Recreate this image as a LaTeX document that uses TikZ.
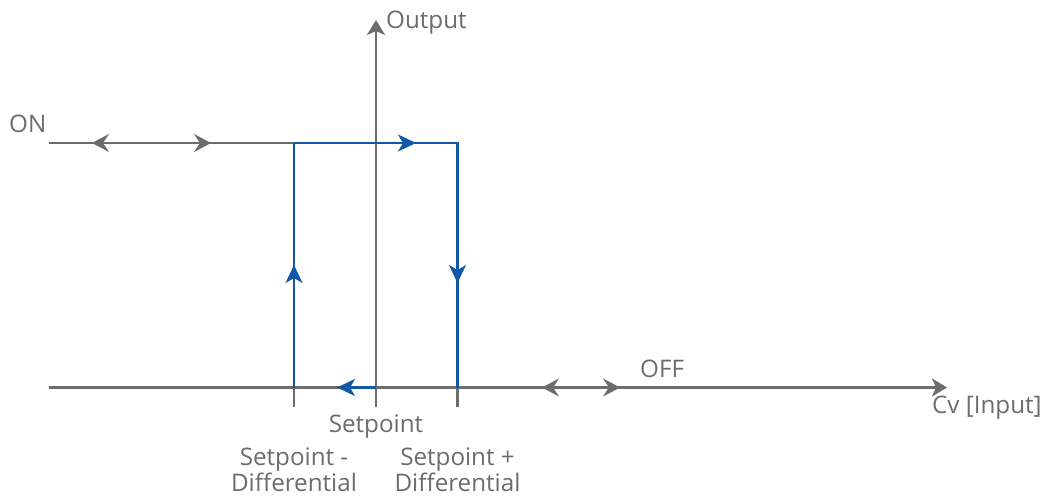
\documentclass[tikz,border=0pt]{standalone}
\usepackage{fontspec}
\setmainfont{Open Sans}
\usetikzlibrary{arrows.meta}
\definecolor{axgray}{RGB}{108,108,108}
\definecolor{hblue}{RGB}{18,88,166}
\tikzset{
  gtip/.tip={Stealth[length=17pt,width=18pt,inset=6pt]},
  atip/.tip={Stealth[length=15pt,width=18pt,inset=4pt]},
  btip/.tip={Stealth[length=18pt,width=17pt,inset=5pt]}}
\begin{document}
\begin{tikzpicture}[x=1pt,y=-1pt,
  gline/.style={draw=axgray,line width=2.5pt},
  bline/.style={draw=hblue,line width=2.1pt},
  lbl/.style={text=axgray,font=\fontsize{24.2}{29}\selectfont,inner sep=0pt}]
\useasboundingbox (0,0) rectangle (1046,496);
% coordinates
\coordinate (xs) at (49,387.5);
\coordinate (xe) at (947,387.5);
\coordinate (ys) at (376,407);
\coordinate (ye) at (376,20);
\coordinate (onL) at (49,143);
\coordinate (lowT) at (294,143);
\coordinate (lowB) at (294,387.5);
\coordinate (lowD) at (294,407);
\coordinate (hiT) at (457.5,143);
\coordinate (hiB) at (457.5,387.5);
\coordinate (hiD) at (457.5,407);
\coordinate (sp) at (376,387.5);
\coordinate (onA) at (92,143);
\coordinate (onB) at (211,143);
\coordinate (offA) at (542,387.5);
\coordinate (offB) at (620,387.5);
% axes
\draw[gline,-{atip}] (xs) -- (xe);
\draw[gline,-{atip}] (ys) -- (ye);
\draw[gline] (lowB) -- (lowD);
\draw[gline] (hiB) -- (hiD);
% ON line
\draw[gline] (onL) -- (lowT);
\draw[gline,{gtip}-{gtip}] (onA) -- (onB);
% OFF arrows
\draw[gline,{gtip}-{gtip}] (offA) -- (offB);
% hysteresis loop
\draw[bline,-{btip}] (sp) -- (337,387.5);
\draw[bline] (lowB) -- (lowT) -- (hiT) -- (hiB);
\draw[bline,-{btip}] (294,310) -- (294,265);
\draw[bline,-{btip}] (380,143) -- (416,143);
\draw[bline,-{btip}] (457.5,250) -- (457.5,283);
% labels
\node[lbl,anchor=base west] (on) at (9,132) {ON};
\node[lbl,anchor=base west] (out) at (386,28) {Output};
\node[lbl,anchor=base west] (off) at (640,377) {OFF};
\node[lbl,anchor=base west] (cv) at (932,413) {Cv [Input]};
\node[lbl,anchor=base] (spl) at (376,432) {Setpoint};
\node[lbl,anchor=base] (sm1) at (294,465) {Setpoint -};
\node[lbl,anchor=base] (sm2) at (294,491) {Differential};
\node[lbl,anchor=base] (sq1) at (457.5,465) {Setpoint +};
\node[lbl,anchor=base] (sq2) at (457.5,491) {Differential};
\end{tikzpicture}
\end{document}
